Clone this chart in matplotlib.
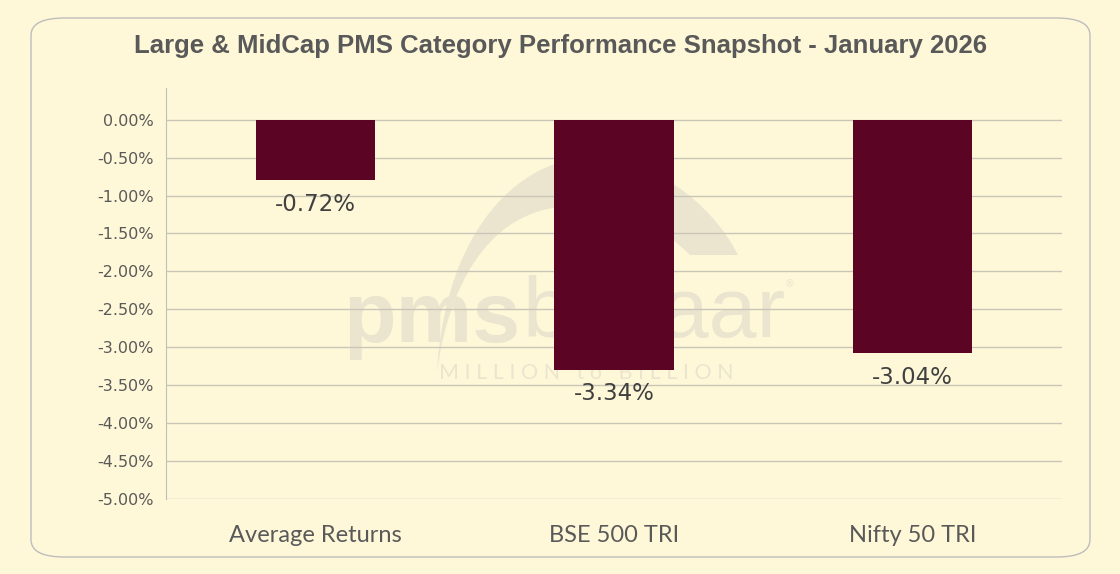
import matplotlib
matplotlib.use('Agg')
import matplotlib.pyplot as plt
from matplotlib.patches import FancyBboxPatch, PathPatch
from matplotlib.path import Path
from matplotlib.ticker import FuncFormatter

# data
categories = ["Average Returns", "BSE 500 TRI", "Nifty 50 TRI"]
returns = [-0.80, -3.30, -3.08]          # bar ends as drawn (%)
value_labels = ["-0.72%", "-3.34%", "-3.04%"]
y_ticks = [0.0, -0.5, -1.0, -1.5, -2.0, -2.5, -3.0, -3.5, -4.0, -4.5, -5.0]

W, H = 1120, 574
BG = "#FEF8D8"
BAR = "#5C0424"
WM = "#EBE5CF"


def fx(px):
    return px / W


def fy(py):
    return 1 - py / H


fig = plt.figure(figsize=(W / 100, H / 100), dpi=100, facecolor=BG)

# rounded frame
frame = FancyBboxPatch((fx(31), fy(557)), fx(1090) - fx(31), fy(18) - fy(557),
                       boxstyle="round,pad=0,rounding_size=0.03",
                       transform=fig.transFigure, facecolor=BG,
                       edgecolor="#BDBDBD", linewidth=1.0, zorder=-3)
fig.patches.append(frame)

# faint watermark behind the plot
pts = [(437, 372), (445, 230), (520, 158), (590, 158),
       (650, 158), (710, 200), (738, 255),
       (690, 255),
       (650, 215), (600, 205), (560, 207),
       (485, 215), (448, 290), (437, 372)]
verts = [(fx(a), fy(b)) for a, b in pts]
codes = [Path.MOVETO, Path.CURVE4, Path.CURVE4, Path.CURVE4,
         Path.CURVE4, Path.CURVE4, Path.CURVE4,
         Path.LINETO,
         Path.CURVE4, Path.CURVE4, Path.CURVE4,
         Path.CURVE4, Path.CURVE4, Path.CURVE4]
swoosh = PathPatch(Path(verts, codes), transform=fig.transFigure,
                   facecolor=WM, edgecolor="none", zorder=-2)
fig.patches.append(swoosh)
fig.text(fx(520), fy(320), "pms", fontsize=62, fontweight="bold",
         family="Liberation Sans", color=WM, ha="right", va="center",
         zorder=-2)
fig.text(fx(522), fy(315), "bazaar", fontsize=62,
         family="Liberation Sans", color=WM, ha="left", va="center",
         zorder=-2)
fig.text(fx(789), fy(284), "®", fontsize=7, color=WM, ha="center",
         va="center", zorder=-2)
fig.text(fx(586), fy(373), "M I L L I O N   t o   B I L L I O N", fontsize=15.5,
         family="Lato", color=WM, ha="center", va="center", zorder=-2)

ax = fig.add_axes([fx(166), fy(499), fx(1062) - fx(166), fy(88) - fy(499)])
ax.set_facecolor("none")

x = range(len(categories))
bars = ax.bar(x, returns, width=0.40, color=BAR, zorder=3)

for rect, lab in zip(bars, value_labels):
    ax.annotate(lab, (rect.get_x() + rect.get_width() / 2, rect.get_height()),
                xytext=(0, -9), textcoords="offset points",
                ha="center", va="top", fontsize=16.5, color="#404040")

ax.set_xlim(-0.5, 2.5)
ax.set_ylim(-5.006, 0.42)
ax.set_yticks(y_ticks)
ax.yaxis.set_major_formatter(FuncFormatter(lambda v, p: f"{v:.2f}%"))
ax.set_xticks(list(x))
ax.set_xticklabels(categories, family="Lato", fontsize=17)

ax.grid(axis="y", color="#C9C6B8", linewidth=1.0, zorder=0)
ax.set_axisbelow(True)
for side in ["top", "right", "bottom"]:
    ax.spines[side].set_visible(False)
ax.spines["left"].set_color("#BFBFBF")
ax.tick_params(axis="both", length=0, colors="#595959")
ax.tick_params(axis="y", labelsize=11.5, pad=9)
ax.tick_params(axis="x", pad=19)

fig.text(0.5, fy(46), "Large & MidCap PMS Category Performance Snapshot - January 2026",
         ha="center", va="center", fontsize=18.5, fontweight="bold",
         family="Liberation Sans", color="#595959")

fig.savefig("out.png", dpi=100, facecolor=BG)
